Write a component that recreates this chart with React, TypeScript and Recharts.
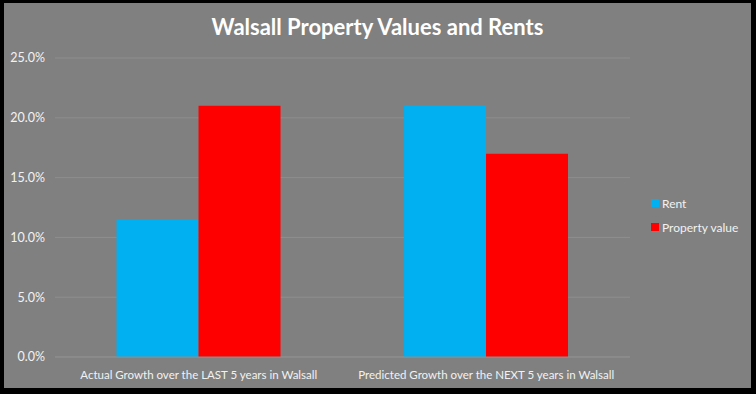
import { BarChart, Bar, XAxis, YAxis, CartesianGrid } from 'recharts'

const categories = [
  'Actual Growth over the LAST 5 years in Walsall',
  'Predicted Growth over the NEXT 5 years in Walsall',
]
const rent = [0.115, 0.21]
const propertyValue = [0.21, 0.17]
const yTicks = [0, 0.05, 0.1, 0.15, 0.2, 0.25]

const data = categories.map((name, i) => ({
  name,
  rent: rent[i],
  propertyValue: propertyValue[i],
}))

const FONT = 'Lato, "Open Sans", sans-serif'
const TEXT = '#f2f2f2'

function LegendBox() {
  const items = [
    { label: 'Rent', color: '#00b0f0' },
    { label: 'Property value', color: '#ff0000' },
  ]
  return (
    <div
      style={{ position: 'absolute', left: 647, top: 188, fontFamily: FONT, fontSize: 12, color: TEXT }}
    >
      {items.map((it) => (
        <div key={it.label} style={{ display: 'flex', alignItems: 'center', height: 24 }}>
          <span style={{ width: 8, height: 8, background: it.color, marginRight: 3 }} />
          {it.label}
        </div>
      ))}
    </div>
  )
}

export default function App() {
  return (
    <div style={{ position: 'absolute', left: 0, top: 0, width: 756, height: 394, background: '#000' }}>
      <div style={{ position: 'absolute', left: 4, top: 3, width: 747, height: 385, background: '#808080' }}>
        <div
          style={{
            position: 'absolute',
            top: 10,
            left: 0,
            width: 747,
            textAlign: 'center',
            fontFamily: FONT,
            fontWeight: 700,
            fontSize: 22,
            color: '#ffffff',
          }}
        >
          Walsall Property Values and Rents
        </div>
        <BarChart
          width={747}
          height={385}
          data={data}
          margin={{ top: 55, right: 121, bottom: 0, left: 0 }}
          barCategoryGap="21.4%"
          barGap={0}
        >
          <CartesianGrid vertical={false} stroke="#8e8e8e" />
          <XAxis
            dataKey="name"
            height={31}
            stroke="#8e8e8e"
            tickLine={false}
            tickMargin={8}
            tick={{ fill: TEXT, fontSize: 11.5, fontFamily: FONT }}
            interval={0}
          />
          <YAxis
            width={51}
            domain={[0, 0.25]}
            ticks={yTicks}
            axisLine={false}
            tickLine={false}
            tickSize={0}
            tickMargin={10}
            tickFormatter={(v: number) => `${(v * 100).toFixed(1)}%`}
            tick={{ fill: TEXT, fontSize: 12.5, fontFamily: FONT }}
          />
          <Bar dataKey="rent" name="Rent" fill="#00b0f0" isAnimationActive={false} />
          <Bar dataKey="propertyValue" name="Property value" fill="#ff0000" isAnimationActive={false} />
        </BarChart>
        <LegendBox />
      </div>
    </div>
  )
}
